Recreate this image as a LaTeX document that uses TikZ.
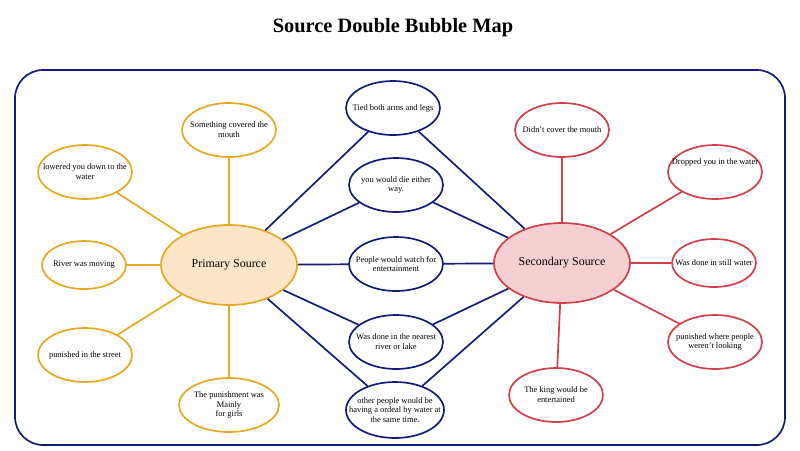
\documentclass[tikz,border=0pt]{standalone}
\usepackage{fontspec}
\setmainfont{Liberation Serif}
\usetikzlibrary{shapes.geometric}
\definecolor{gold}{HTML}{E6A820}
\definecolor{goldfill}{HTML}{FDE6C8}
\definecolor{rose}{HTML}{D04048}
\definecolor{rosefill}{HTML}{F5CFD2}
\definecolor{navy}{HTML}{141C7A}
\tikzset{
  bub/.style={ellipse,draw,line width=1.2pt,fill=white,inner xsep=-8pt,inner ysep=-2pt,
    minimum width=94*0.025cm,minimum height=54*0.025cm,
    align=center,font=\fontsize{6}{7}\selectfont},
  prim/.style={bub,draw=gold},
  sec/.style={bub,draw=rose},
  mid/.style={bub,draw=navy},
  hub/.style={ellipse,draw,line width=1.2pt,inner sep=0pt,
    minimum width=136*0.025cm,minimum height=80*0.025cm,
    font=\fontsize{8.5}{10}\selectfont},
}
\begin{document}
\begin{tikzpicture}[x=0.025cm,y=-0.025cm]
\useasboundingbox (0,0) rectangle (800,450);
%\draw[step=50,gray,very thin] (0,0) grid (800,450);
\node[font=\bfseries\fontsize{14.5}{16}\selectfont] (title) at (393,28) {Source Double Bubble Map};
\draw[navy,line width=1.2pt,rounded corners=20] (15,70) rectangle (785,445);

% hubs
\node[hub,draw=gold,fill=goldfill] (ps) at (229,265) {Primary Source};
\node[hub,draw=rose,fill=rosefill] (ss) at (562,263) {Secondary Source};

% primary only
\node[prim] (p1) at (229,130) {Something covered the\\mouth};
\node[prim] (p2) at (85,172) {lowered you down to the\\water};
\node[prim,minimum width=84*0.025cm,minimum height=48*0.025cm] (p3) at (84,265) {River was moving};
\node[prim] (p4) at (85,355) {punished in the street};
\node[prim,minimum width=100*0.025cm] (p5) at (229,405) {The punishment was\\Mainly\\for girls};

% shared
\node[mid] (m1) at (393,108) {Tied both arms and legs};
\node[mid] (m2) at (396,185) {you would die either\\way.};
\node[mid] (m3) at (396,264) {People would watch for\\entertainment};
\node[mid] (m4) at (396,342) {Was done in the nearest\\river or lake};
\node[mid,minimum width=98*0.025cm,minimum height=56*0.025cm] (m5) at (395,410) {other people would be\\having a ordeal by water at\\the same time.};

% secondary only
\node[sec] (s1) at (562,130) {Didn't cover the mouth};
\node[sec] (s2) at (715,172) {Dropped you in the water\\[8pt]};
\node[sec,minimum width=84*0.025cm,minimum height=48*0.025cm] (s3) at (714,263) {Was done in still water};
\node[sec] (s4) at (715,342) {punished where people\\weren't looking};
\node[sec] (s5) at (556,395) {The king would be\\entertained};

\foreach \n in {p1,p2,p3,p4,p5}
  \draw[gold,line width=1.2pt] (ps) -- (\n);
\foreach \n in {s1,s2,s3,s4,s5}
  \draw[rose,line width=1.2pt] (ss) -- (\n);
\foreach \n in {m1,m2,m3,m4,m5}
  \draw[navy,line width=1.2pt] (ps) -- (\n) -- (ss);
\end{tikzpicture}
\end{document}
